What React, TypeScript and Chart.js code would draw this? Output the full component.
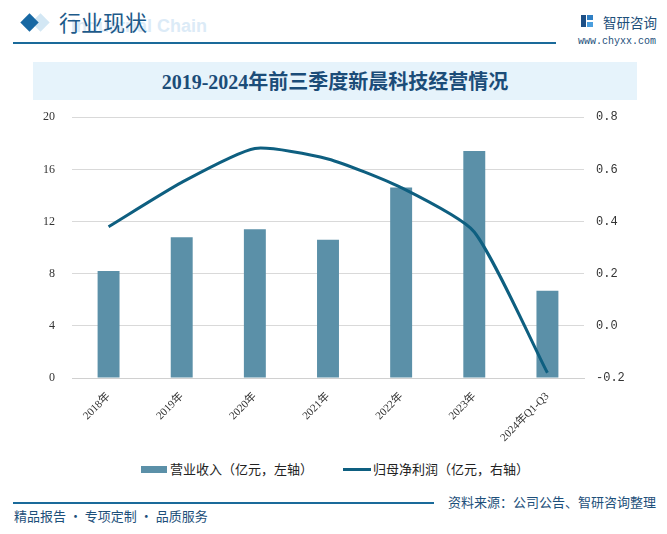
import React, { useEffect, useRef } from "react";
import { Chart, registerables } from "chart.js";

Chart.register(...registerables);

const categories = ["2018年", "2019年", "2020年", "2021年", "2022年", "2023年", "2024年Q1-Q3"];
const revenue = [8.2, 10.8, 11.4, 10.6, 14.6, 17.4, 6.7];
const netProfit = [0.38, 0.55, 0.68, 0.64, 0.53, 0.36, -0.18];
const leftTicks = { min: 0, max: 20, step: 4 };
const rightTicks = { min: -0.2, max: 0.8, step: 0.2 };

const BAR_COLOR = "#5b90a8";
const LINE_COLOR = "#0e5f80";

export default function App() {
  const canvasRef = useRef<HTMLCanvasElement | null>(null);

  useEffect(() => {
    const ctx = canvasRef.current!.getContext("2d")!;
    const chart = new Chart(ctx, {
      type: "bar",
      data: {
        labels: categories,
        datasets: [
          {
            type: "line",
            label: "归母净利润（亿元，右轴）",
            data: netProfit,
            yAxisID: "y1",
            borderColor: LINE_COLOR,
            backgroundColor: LINE_COLOR,
            borderWidth: 3,
            pointRadius: 0,
            tension: 0.2,
            order: 0,
          } as any,
          {
            type: "bar",
            label: "营业收入（亿元，左轴）",
            data: revenue,
            yAxisID: "y",
            backgroundColor: BAR_COLOR,
            barPercentage: 0.3,
            categoryPercentage: 1,
            order: 1,
          },
        ],
      },
      options: {
        responsive: false,
        animation: false,
        layout: { padding: { top: 10, left: 0, right: 0, bottom: 0 } },
        plugins: { legend: { display: false }, tooltip: { enabled: false } },
        scales: {
          x: {
            grid: { display: false },
            border: { display: true, color: "#d0d0d0" },
            ticks: {
              minRotation: 45,
              maxRotation: 45,
              padding: 4,
              color: "#333",
              font: { family: "'Liberation Serif', 'Noto Sans CJK SC'", size: 11 },
            },
            afterFit: (s: any) => {
              s.height = 67;
            },
          },
          y: {
            position: "left",
            min: leftTicks.min,
            max: leftTicks.max,
            grid: { color: "#d9d9d9", drawTicks: false },
            border: { display: false },
            ticks: {
              stepSize: leftTicks.step,
              padding: 17,
              color: "#333",
              font: { family: "'Liberation Serif'", size: 12 },
            },
            afterFit: (s: any) => {
              s.width = 72;
            },
          },
          y1: {
            position: "right",
            min: rightTicks.min,
            max: rightTicks.max,
            grid: { display: false, drawTicks: false },
            border: { display: false },
            ticks: {
              stepSize: rightTicks.step,
              padding: 12,
              color: "#333",
              font: { family: "'Liberation Mono'", size: 12 },
              callback: (v: any) => (Math.abs(Number(v)) < 1e-9 ? "0.0" : Number(v).toFixed(1)),
            },
            afterFit: (s: any) => {
              s.width = 83;
            },
          },
        },
      },
    });
    return () => chart.destroy();
  }, []);

  const cjk = "'Noto Sans CJK SC', sans-serif";

  return (
    <div
      style={{
        position: "fixed",
        left: 0,
        top: 0,
        width: 667,
        height: 534,
        background: "#fff",
        overflow: "hidden",
        fontFamily: cjk,
      }}
    >
      {/* header */}
      <div style={{ position: "absolute", left: 34, top: 16, width: 13, height: 13, background: "#d3e7f4", transform: "rotate(45deg)" }} />
      <div style={{ position: "absolute", left: 23, top: 16, width: 13, height: 13, background: "#1768a3", transform: "rotate(45deg)" }} />
      <div style={{ position: "absolute", left: 71, top: 15, fontSize: 18, fontWeight: 700, color: "#dcebf7", fontFamily: "'Liberation Sans', sans-serif", lineHeight: "22px", whiteSpace: "nowrap" }}>
        Industrial Chain
      </div>
      <div style={{ position: "absolute", left: 59, top: 4, fontSize: 22, color: "#1d5a8a", lineHeight: "34px", whiteSpace: "nowrap" }}>
        行业现状
      </div>
      <div style={{ position: "absolute", left: 13, top: 42, width: 543, height: 1.5, background: "#1a6a9a" }} />
      {/* logo */}
      <div style={{ position: "absolute", left: 581, top: 15, width: 5, height: 12, background: "#1d4f86" }} />
      <div style={{ position: "absolute", left: 587, top: 15, width: 6, height: 5, background: "#2f7fc4" }} />
      <div style={{ position: "absolute", left: 587, top: 22, width: 6, height: 5, background: "#4a9ede" }} />
      <div style={{ position: "absolute", left: 603, top: 12, fontSize: 13.5, color: "#1d4f7a", lineHeight: "20px", whiteSpace: "nowrap" }}>
        智研咨询
      </div>
      <div style={{ position: "absolute", left: 578, top: 35, fontSize: 10, color: "#1d4f7a", fontFamily: "'Liberation Mono', monospace", lineHeight: "14px", whiteSpace: "nowrap" }}>
        www.chyxx.com
      </div>

      {/* title band */}
      <div style={{ position: "absolute", left: 33, top: 62, width: 604, height: 38, background: "#e6f3fb" }} />
      <div
        style={{
          position: "absolute",
          left: 33,
          top: 62,
          width: 604,
          height: 38,
          lineHeight: "40px",
          textAlign: "center",
          fontSize: 20,
          fontWeight: 700,
          color: "#1b4c78",
          fontFamily: "'Liberation Serif', 'Noto Sans CJK SC', serif",
        }}
      >
        2019-2024年前三季度新晨科技经营情况
      </div>

      {/* chart */}
      <div style={{ position: "absolute", left: 0, top: 93, width: 667, height: 352 }}>
        <canvas ref={canvasRef} width={667} height={352} style={{ width: 667, height: 352, display: "block" }} />
      </div>

      {/* legend */}
      <div style={{ position: "absolute", left: 141, top: 466, width: 26, height: 7, background: BAR_COLOR }} />
      <div style={{ position: "absolute", left: 170, top: 460, fontSize: 13, color: "#222", lineHeight: "18px", whiteSpace: "nowrap" }}>
        营业收入（亿元，左轴）
      </div>
      <div style={{ position: "absolute", left: 343, top: 468, width: 28, height: 3, background: LINE_COLOR }} />
      <div style={{ position: "absolute", left: 373, top: 460, fontSize: 13, color: "#222", lineHeight: "18px", whiteSpace: "nowrap" }}>
        归母净利润（亿元，右轴）
      </div>

      {/* footer */}
      <div style={{ position: "absolute", left: 13, top: 502, width: 421, height: 1.5, background: "#1a6a9a" }} />
      <div style={{ position: "absolute", right: 11, top: 493, fontSize: 13, color: "#1d4f7a", lineHeight: "18px", whiteSpace: "nowrap" }}>
        资料来源：公司公告、智研咨询整理
      </div>
      <div style={{ position: "absolute", left: 14, top: 507, fontSize: 13, color: "#1d4f7a", lineHeight: "18px", whiteSpace: "nowrap" }}>
        精品报告 · 专项定制 · 品质服务
      </div>
    </div>
  );
}
